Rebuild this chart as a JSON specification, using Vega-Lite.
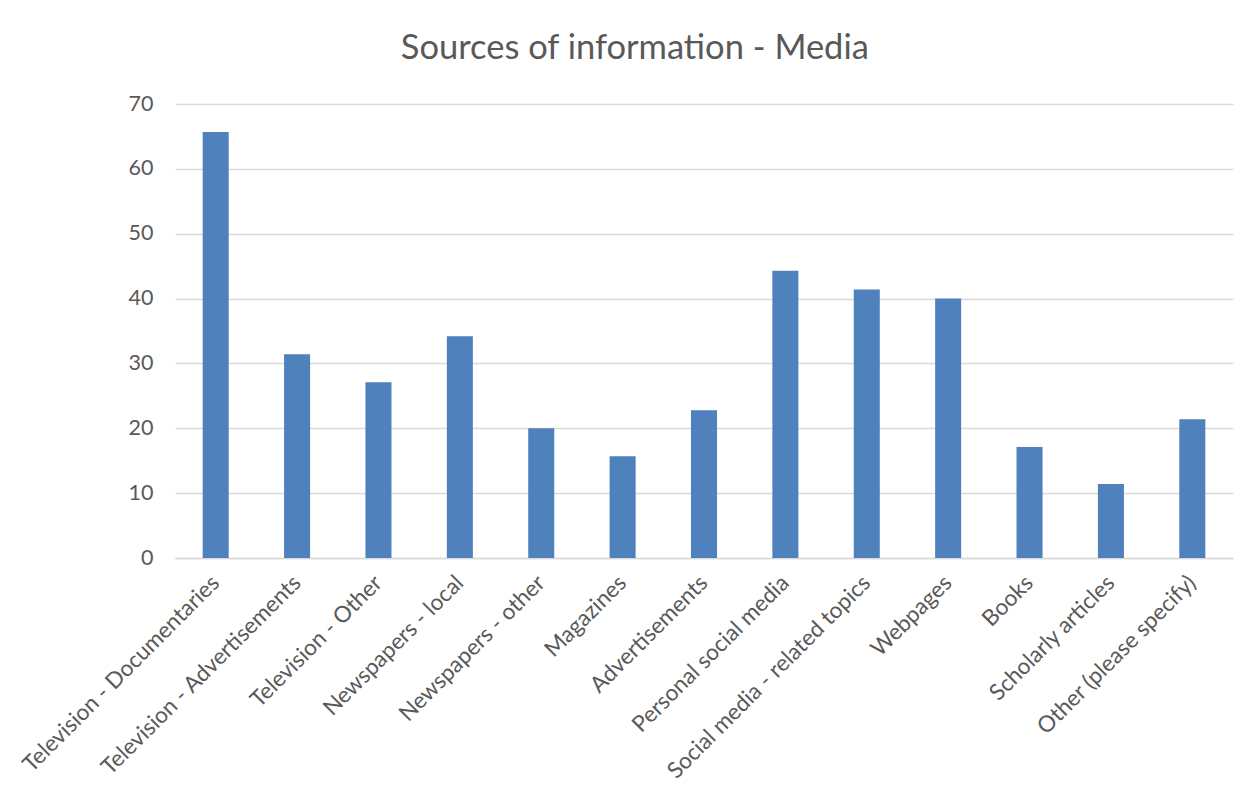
{
  "$schema": "https://vega.github.io/schema/vega-lite/v6.json",
  "width": 1058,
  "height": 454,
  "autosize": {"type": "none"},
  "padding": {"left": 175, "top": 104, "right": 26, "bottom": 241},
  "background": "white",
  "title": {
    "text": "Sources of information - Media",
    "anchor": "middle",
    "frame": "bounds",
    "font": "Lato",
    "fontSize": 34.5,
    "fontWeight": "normal",
    "color": "#595959",
    "offset": 27,
    "dx": 9
  },
  "data": {
    "values": [
      {"source": "Television - Documentaries", "value": 65.7},
      {"source": "Television - Advertisements", "value": 31.4},
      {"source": "Television - Other", "value": 27.1},
      {"source": "Newspapers - local", "value": 34.2},
      {"source": "Newspapers - other", "value": 20.0},
      {"source": "Magazines", "value": 15.7},
      {"source": "Advertisements", "value": 22.8},
      {"source": "Personal social media", "value": 44.3},
      {"source": "Social media - related topics", "value": 41.4},
      {"source": "Webpages", "value": 40.0},
      {"source": "Books", "value": 17.1},
      {"source": "Scholarly articles", "value": 11.4},
      {"source": "Other (please specify)", "value": 21.4}
    ]
  },
  "mark": {"type": "bar", "color": "#4f81bd"},
  "encoding": {
    "x": {
      "field": "source",
      "type": "nominal",
      "sort": null,
      "title": null,
      "scale": {"paddingInner": 0.68, "paddingOuter": 0.34},
      "axis": {
        "labelAngle": -45,
        "labelAlign": "right",
        "labelBaseline": "middle",
        "labelFont": "Lato",
        "labelFontSize": 22.5,
        "labelColor": "#595959",
        "labelPadding": 21,
        "ticks": false,
        "domain": true,
        "domainColor": "#d9d9d9",
        "domainWidth": 1.5,
        "labelLimit": 400
      }
    },
    "y": {
      "field": "value",
      "type": "quantitative",
      "title": null,
      "scale": {"domain": [0, 70], "nice": false},
      "axis": {
        "values": [0, 10, 20, 30, 40, 50, 60, 70],
        "labelFont": "Lato",
        "labelFontSize": 21.5,
        "labelColor": "#595959",
        "labelPadding": 22,
        "ticks": false,
        "domain": false,
        "gridColor": "#d9d9d9",
        "gridWidth": 1.5
      }
    }
  },
  "config": {"view": {"stroke": null}}
}
